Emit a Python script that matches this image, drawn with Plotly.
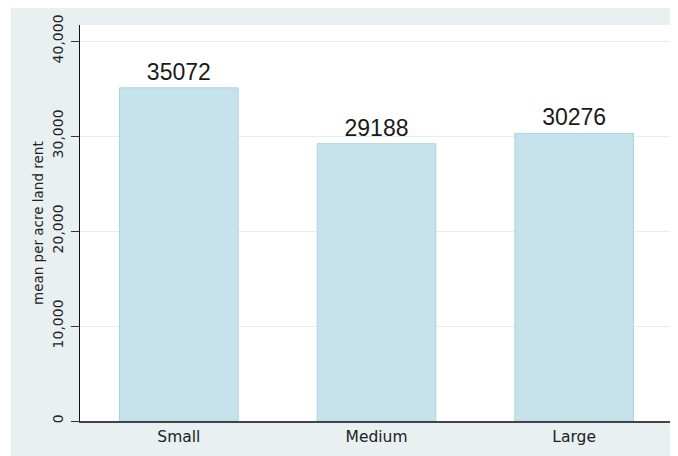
import plotly.graph_objects as go

categories = ["Small", "Medium", "Large"]
values = [35072, 29188, 30276]
ytick_vals = [0, 10000, 20000, 30000, 40000]
ytick_text = ["0", "10,000", "20,000", "30,000", "40,000"]
y_title = "mean per acre land rent"

# page has an 8px body margin, so the figure is drawn 8px smaller
OFF = 8
W, H = 678 - OFF, 456 - OFF
ML, MR, MT, MB = 80 - OFF, 5, 25 - OFF, 35
PW, PH = W - ML - MR, H - MT - MB

def px_x(p):
    return (p - OFF - ML) / PW

def px_y(p):
    return (H - MB - (p - OFF)) / PH

BG = "#e8f0f2"
GRID = "#e4eef0"

fig = go.Figure()
fig.add_trace(go.Bar(
    x=categories,
    y=values,
    width=0.6,
    marker=dict(color="#c6e2eb", line=dict(color="#a9d3e2", width=1)),
    text=[str(v) for v in values],
    textposition="outside",
    textfont=dict(family="Liberation Sans, Arial", size=23, color="#1a1a1a"),
    constraintext="none",
    cliponaxis=False,
    hoverinfo="skip",
))

fig.update_layout(
    width=W, height=H, autosize=False,
    margin=dict(l=ML, r=MR, t=MT, b=MB, pad=0),
    paper_bgcolor="white",
    plot_bgcolor="rgba(0,0,0,0)",
    showlegend=False,
    shapes=[
        dict(type="rect", xref="paper", yref="paper", layer="below",
             x0=px_x(11), x1=px_x(700), y0=px_y(470), y1=px_y(7),
             fillcolor=BG, line=dict(width=0)),
        dict(type="rect", xref="paper", yref="paper", layer="below",
             x0=0, x1=1, y0=0, y1=1,
             fillcolor="white", line=dict(width=0)),
    ],
    annotations=[
        dict(text=y_title, xref="paper", yref="paper",
             x=px_x(38), y=0.5, xanchor="center", yanchor="middle",
             textangle=-90, showarrow=False,
             font=dict(family="DejaVu Sans", size=13.5, color="#222")),
    ],
)

fig.update_xaxes(
    type="category",
    range=[-0.5, 2.5],
    showline=True, linecolor="#444", linewidth=2,
    ticks="", showgrid=False, zeroline=False,
    tickfont=dict(family="DejaVu Sans", size=15.5, color="#222"),
    ticklabelstandoff=0,
    fixedrange=True,
)
fig.update_yaxes(
    range=[0, 41684],
    tickvals=ytick_vals, ticktext=ytick_text,
    tickangle=-90,
    ticks="outside", ticklen=8, tickcolor="#333", tickwidth=1,
    showline=True, linecolor="#111", linewidth=1,
    showgrid=True, gridcolor=GRID, gridwidth=1,
    zeroline=False,
    tickfont=dict(family="DejaVu Sans", size=14, color="#222"),
    ticklabelstandoff=2,
    fixedrange=True,
)

fig.write_html("out.html")
